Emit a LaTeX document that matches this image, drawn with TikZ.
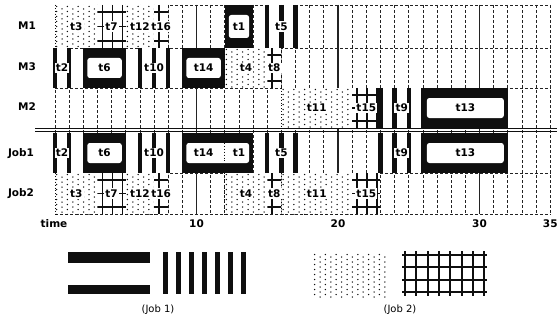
\documentclass[tikz,border=0pt]{standalone}
\usepackage{fontspec}
\setmainfont{DejaVu Sans}
\usetikzlibrary{calc}
\definecolor{inkcol}{RGB}{15, 15, 15}
\definecolor{gridcol}{RGB}{35, 35, 35}
% time unit -> horizontal position (pt); t = 0 sits at x = 55
\newcommand{\tpx}[1]{55+14.15*(#1)}
\tikzset{
  slot/.style    = {draw=gridcol, line width=0.8pt, dash pattern=on 3pt off 2pt},
  decade/.style  = {draw=gridcol, line width=1.1pt},
  sepline/.style = {draw=inkcol, line width=1.5pt},
  tlbl/.style    = {fill=white, inner sep=1.2pt},
  hbarin/.style  = {tlbl, rounded corners=2.5pt, inner sep=0pt},
  vbarline/.style = {draw=inkcol, line width=4.3pt},
  gridline/.style = {draw=inkcol, line width=1.6pt},
  legrid/.style  = {draw=inkcol, line width=2pt},
  dotedge/.style = {draw=inkcol, line width=0.9pt, dash pattern=on 0.9pt off 2pt},
  rowname/.style = {inner sep=1pt},
  ticklbl/.style = {inner sep=1pt},
  legcap/.style  = {font=\fontsize{10}{12}\selectfont, inner sep=1pt},
}
% dots of the job-2 fill: #1 left, #2 right, #3 top, #4 bottom
\newcommand{\dotfield}[4]{%
  \pgfmathtruncatemacro\nc{(#2-#1)/5.4}%
  \pgfmathtruncatemacro\nr{(#4-#3)/5}%
  \foreach \i in {0,...,\nc} {
    \foreach \j in {0,...,\nr} {
      \pgfmathsetmacro\dx{#1+1.6+5.4*\i}
      \pgfmathsetmacro\dy{#3+1.5+5*\j+2.5*mod(\i,2)}
      \fill[inkcol] (\dx,\dy) circle (0.75pt);
    }
  }
}
% tasks: #1 name, #2 start, #3 end, #4 row top, #5 row bottom, #6 label
\newcommand{\hbartask}[6]{%
  \pgfmathsetmacro\xa{\tpx{#2}}\pgfmathsetmacro\xb{\tpx{#3}}%
  \pgfmathsetmacro\bw{\xb-\xa-8}\pgfmathsetmacro\bh{#5-#4-20}%
  \fill[inkcol] (\xa,#4) rectangle (\xb,#5);
  \node[hbarin, minimum width=\bw pt, minimum height=\bh pt] (#1)
       at ({(\xa+\xb)/2},{(#4+#5)/2}) {#6};
}
\newcommand{\vbartask}[6]{%
  \pgfmathsetmacro\xa{\tpx{#2}}\pgfmathsetmacro\xb{\tpx{#3}}%
  \fill[white] (\xa,#4) rectangle (\xb,#5);
  \foreach \k in {#2,...,#3}
    \draw[vbarline] ({\tpx{\k}},#4) -- ({\tpx{\k}},#5);
  \node[tlbl] (#1) at ({(\xa+\xb)/2},{(#4+#5)/2}) {#6};
}
\newcommand{\dottask}[6]{%
  \pgfmathsetmacro\xa{\tpx{#2}}\pgfmathsetmacro\xb{\tpx{#3}}%
  \fill[white] (\xa,#4) rectangle (\xb,#5);
  \begin{scope}
    \clip (\xa,#4) rectangle (\xb,#5);
    \dotfield{\xa}{\xb}{#4}{#5}
  \end{scope}
  \draw[dotedge] (\xa,#4) -- (\xa,#5) (\xb,#4) -- (\xb,#5);
  \node[tlbl] (#1) at ({(\xa+\xb)/2},{(#4+#5)/2}) {#6};
}
\newcommand{\gridtask}[6]{%
  \pgfmathsetmacro\xa{\tpx{#2}}\pgfmathsetmacro\xb{\tpx{#3}}%
  \pgfmathsetmacro\ym{(#4+#5)/2}%
  \fill[white] (\xa,#4) rectangle (\xb,#5);
  \begin{scope}
    \clip (\xa,#4) rectangle (\xb,#5);
    \foreach \gy in {#4+7, \ym, #5-7}
      \draw[gridline] (\xa,{\gy}) -- (\xb,{\gy});
    \foreach \gx in {5,15,25,35}
      \draw[gridline] ({\xa+\gx},#4) -- ({\xa+\gx},#5);
  \end{scope}
  \node[tlbl] (#1) at ({(\xa+\xb)/2},\ym) {#6};
}

\begin{document}
\begin{tikzpicture}[x=1pt, y=-1pt, font=\bfseries\fontsize{10.5}{12}\selectfont]
  \useasboundingbox (0,0) rectangle (557,329);
  \fill[white] (0,0) rectangle (557,329);

  %% ---------------- time grid ----------------
  \foreach \k in {0,...,35}
    \draw[slot] ({\tpx{\k}},5) -- ({\tpx{\k}},214);
  \foreach \yr in {5,48,88,173,214}
    \draw[slot] ({\tpx{0}},\yr) -- ({\tpx{35}},\yr);
  \foreach \k in {10,20,30}
    \draw[decade] ({\tpx{\k}},5) -- ({\tpx{\k}},214);

  %% ---------------- job 2: dots and grid ----------------
  \foreach \nm/\s/\e/\yt/\yb/\lbl in {
      m1t3/0/3/5/48/t3, m1t12/5/7/5/48/t12, m3t4/12/15/48/88/t4,
      m2t11/16/21/88/128/t11,
      j2t3/0/3/173/214/t3, j2t12/5/7/173/214/t12, j2t4/12/15/173/214/t4,
      j2t11/16/21/173/214/t11} {
    \dottask{\nm}{\s}{\e}{\yt}{\yb}{\lbl}
  }
  \foreach \nm/\s/\e/\yt/\yb/\lbl in {
      m1t7/3/5/5/48/t7, m1t16/7/8/5/48/t16, m3t8/15/16/48/88/t8,
      m2t15/21/23/88/128/t15,
      j2t7/3/5/173/214/t7, j2t16/7/8/173/214/t16, j2t8/15/16/173/214/t8,
      j2t15/21/23/173/214/t15} {
    \gridtask{\nm}{\s}{\e}{\yt}{\yb}{\lbl}
  }

  %% ---------------- job 1: vertical and horizontal bars ----------------
  \foreach \nm/\s/\e/\yt/\yb/\lbl in {
      m1t5/15/17/5/48/t5, m3t2/0/1/48/88/t2, m3t10/6/8/48/88/t10,
      m2t9/23/26/88/128/t9,
      j1t2/0/1/133/173/t2, j1t10/6/8/133/173/t10, j1t5/15/17/133/173/t5,
      j1t9/23/26/133/173/t9} {
    \vbartask{\nm}{\s}{\e}{\yt}{\yb}{\lbl}
  }
  \foreach \nm/\s/\e/\yt/\yb/\lbl in {
      m1t1/12/14/5/48/t1, m3t6/2/5/48/88/t6, m3t14/9/12/48/88/t14,
      m2t13/26/32/88/128/t13,
      j1t6/2/5/133/173/t6, j1t13/26/32/133/173/t13} {
    \hbartask{\nm}{\s}{\e}{\yt}{\yb}{\lbl}
  }
  % t14 and t1 run back to back on job 1: one frame, split by dots
  \fill[inkcol] ({\tpx{9}},133) rectangle ({\tpx{14}},173);
  \node[hbarin, minimum width=62.75pt, minimum height=20pt] (j1frame)
       at ({\tpx{11.5}},153) {};
  \node[inner sep=1pt] (j1t14) at ({\tpx{10.5}},153) {t14};
  \node[inner sep=1pt] (j1t1) at ({\tpx{13}},153) {t1};
  \draw[dotedge] ({\tpx{12}},143) -- ({\tpx{12}},163);

  %% ---------------- machines / jobs divider ----------------
  \draw[sepline] (35,128.3) -- (557,128.3);
  \draw[sepline] (35,131.7) -- (557,131.7);

  %% ---------------- row names and time axis ----------------
  \foreach \nm/\yr/\xr/\txt in {rm1/26/27/M1, rm3/67/27/M3, rm2/107/27/M2,
      rj1/154/21/Job1, rj2/194/21/Job2}
    \node[rowname] (\nm) at (\xr,\yr) {\txt};
  \node[ticklbl] (ttime) at (54,224) {time};
  \foreach \k in {10,20,30,35}
    \node[ticklbl] (tk\k) at ({\tpx{\k}},224) {\k};

  %% ---------------- legend ----------------
  \fill[inkcol] (68,252) rectangle (150,263);
  \fill[inkcol] (68,285) rectangle (150,294);
  \foreach \i in {0,...,6}
    \draw[vbarline] ({165.5+13*\i},252) -- ({165.5+13*\i},294);
  \dotfield{313}{388}{253}{293}
  \foreach \i in {0,...,7}
    \draw[legrid] ({405+11.3*\i},251) -- ({405+11.3*\i},296);
  \foreach \j in {0,...,3}
    \draw[legrid] (402,{255+12.4*\j}) -- (487,{255+12.4*\j});
  \node[legcap] (cap1) at (158,310) {(Job 1)};
  \node[legcap] (cap2) at (400,310) {(Job 2)};

\end{tikzpicture}
\end{document}
